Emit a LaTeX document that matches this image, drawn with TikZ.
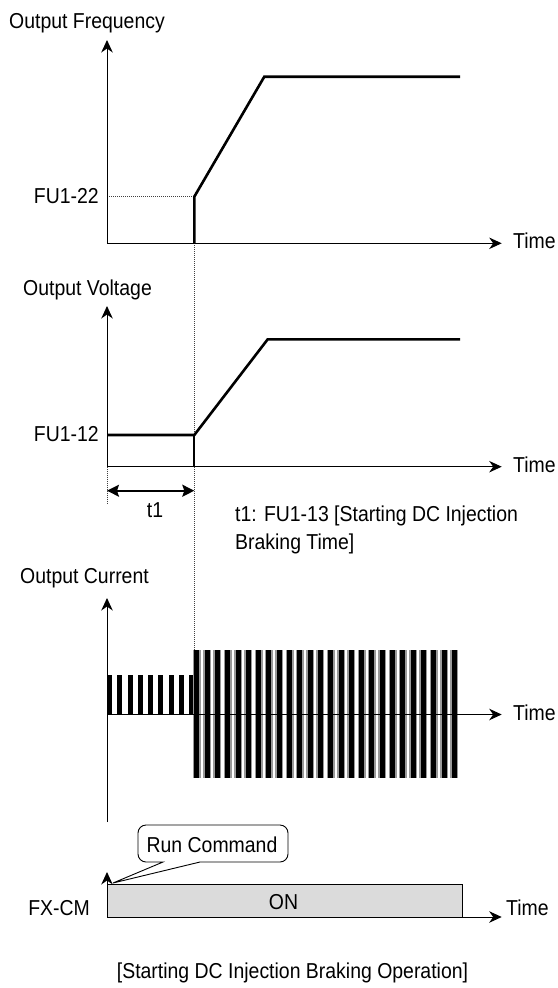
\documentclass[tikz,border=0pt]{standalone}
\usepackage{fontspec}
\setmainfont{Liberation Sans}[FakeStretch=0.9]
\usetikzlibrary{arrows.meta}
\begin{document}
\begin{tikzpicture}[x=1pt,y=1pt,
  lbl/.style={inner sep=0pt, font=\fontsize{21.6}{28}\selectfont},
  axisline/.style={line width=1pt, -{Stealth[length=12.5pt,width=11.5pt,inset=4pt]}},
  curve/.style={line width=2.6pt, line join=miter, line cap=butt},
  guide/.style={line width=0.9pt, dash pattern=on 1pt off 1pt, black!75},
  span/.style={line width=1.6pt, {Stealth[length=12pt,width=12pt,inset=2pt]}-{Stealth[length=12pt,width=12pt,inset=2pt]}},
  bubble/.style={line width=0.9pt, fill=white}
]
\useasboundingbox (0,0) rectangle (557,-988);

% ---------- Output Frequency ----------
\coordinate (o1) at (107,-243.3);
\coordinate (y1) at (107,-40);
\coordinate (x1) at (501.7,-243.3);
\coordinate (f1a) at (107,-196.7);
\coordinate (f1b) at (194.3,-196.7);
\coordinate (f1c) at (194.3,-243.3);
\coordinate (f1d) at (264.3,-76.7);
\coordinate (f1e) at (460,-76.7);
\node[lbl, anchor=base west] (freqlbl) at (9,-28) {Output Frequency};
\node[lbl, anchor=base east] (fu122) at (99,-203.3) {FU1-22};
\node[lbl, anchor=base west] (time1) at (513,-248.5) {Time};
\draw[guide] (f1a) -- (f1b);
\draw[guide] (f1c) -- (194.3,-650);
\draw[axisline] (o1) -- (y1);
\draw[axisline] (o1) -- (x1);
\draw[curve] (f1c) -- (f1b) -- (f1d) -- (f1e);

% ---------- Output Voltage ----------
\coordinate (o2) at (107,-466.7);
\coordinate (y2) at (107,-306);
\coordinate (x2) at (501.7,-466.7);
\coordinate (v2a) at (107,-435);
\coordinate (v2b) at (194.3,-435);
\coordinate (v2c) at (194.3,-466.7);
\coordinate (v2d) at (267.7,-339.3);
\coordinate (v2e) at (460,-339.3);
\node[lbl, anchor=base west] (voltlbl) at (23,-295) {Output Voltage};
\node[lbl, anchor=base east] (fu112) at (99,-441) {FU1-12};
\node[lbl, anchor=base west] (time2) at (513,-472) {Time};
\draw[guide] (o2) -- (107,-503);
\draw[axisline] (o2) -- (y2);
\draw[axisline] (o2) -- (x2);
\draw[line width=2pt] (v2b) -- (v2c);
\draw[curve] (v2a) -- (v2b) -- (v2d) -- (v2e);

% t1 span
\coordinate (t1a) at (107,-490.7);
\coordinate (t1b) at (194.3,-490.7);
\draw[span] (t1a) -- (t1b);
\node[lbl, anchor=base] (t1lbl) at (155,-517) {t1};
\node[lbl, anchor=base west] (note1) at (235,-521) {t1: FU1-13 [Starting DC Injection};
\node[lbl, anchor=base west] (note2) at (235,-549) {Braking Time]};

% ---------- Output Current ----------
\coordinate (o3) at (107,-714.5);
\coordinate (y3) at (107,-598);
\coordinate (y3b) at (107,-822);
\coordinate (x3) at (501.7,-714.5);
\node[lbl, anchor=base west] (currlbl) at (20,-583) {Output Current};
\node[lbl, anchor=base west] (time3) at (513,-720) {Time};
\foreach \k in {0,...,8}{
  \fill[black] ({107+10.25*\k},-675) rectangle ({112+10.25*\k},-714.5);
}
\foreach \k in {0,...,25}{
  \fill[black!40] ({192.8+10.3*\k},-650) rectangle ({200.8+10.3*\k},-778);
  \fill[black] ({194.3+10.3*\k},-650) rectangle ({199.3+10.3*\k},-778);
}
\draw[axisline] (y3b) -- (y3);
\draw[axisline] (o3) -- (x3);

% ---------- FX-CM ----------
\coordinate (o4) at (107,-917);
\coordinate (y4) at (107,-872);
\coordinate (x4) at (501.7,-917);
\coordinate (ontr) at (462,-884);
\draw[line width=0.9pt, fill=black!14] (o4) rectangle (ontr);
\node[lbl, anchor=base] (onlbl) at (283.5,-909) {ON};
\node[lbl, anchor=base east] (fxcm) at (90,-915) {FX-CM};
\node[lbl, anchor=base west] (time4) at (506,-915) {Time};
\draw[axisline] (o4) -- (y4);
\draw[axisline] (o4) -- (x4);

% callout
\coordinate (tip) at (113,-883);
\draw[bubble] (163,-862) -- (tip) -- (200,-862) -- (280,-862)
  arc[start angle=-90, end angle=0, radius=8pt] -- (288,-833)
  arc[start angle=0, end angle=90, radius=8pt] -- (146,-825)
  arc[start angle=90, end angle=180, radius=8pt] -- (138,-854)
  arc[start angle=180, end angle=270, radius=8pt] -- cycle;
\node[lbl, anchor=base] (runcmd) at (212,-852) {Run Command};

% caption
\node[lbl, anchor=base] (caption) at (292.5,-978) {[Starting DC Injection Braking Operation]};
\end{tikzpicture}
\end{document}
